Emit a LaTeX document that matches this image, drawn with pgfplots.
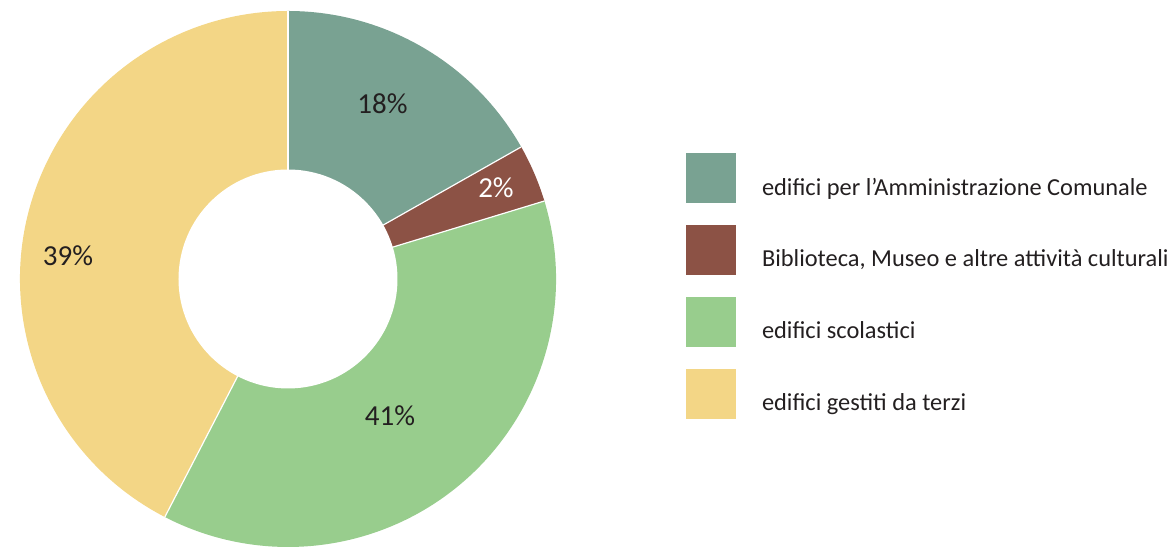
\documentclass[border=0pt]{standalone}
\usepackage{pgfplots}
\usepackage{pgfplotstable}
\pgfplotsset{compat=1.18}
\usepackage{fontspec}
\setmainfont{Carlito}
\definecolor{cA}{HTML}{79A292}
\definecolor{cB}{HTML}{8C5245}
\definecolor{cC}{HTML}{98CD8D}
\definecolor{cD}{HTML}{F3D686}
\definecolor{txt}{HTML}{231F20}

\pgfplotstableread{
share label
16.8 18
3.5 2
37.3 41
42.4 39
}\shares

\begin{document}
\begin{tikzpicture}
\pgfplotstablegetelem{0}{share}\of\shares \let\vA\pgfplotsretval
\pgfplotstablegetelem{1}{share}\of\shares \let\vB\pgfplotsretval
\pgfplotstablegetelem{2}{share}\of\shares \let\vC\pgfplotsretval
\pgfplotstablegetelem{3}{share}\of\shares \let\vD\pgfplotsretval
\pgfmathsetmacro\aA{90}
\pgfmathsetmacro\aB{\aA-3.6*\vA}
\pgfmathsetmacro\aC{\aB-3.6*\vB}
\pgfmathsetmacro\aD{\aC-3.6*\vC}
\pgfmathsetmacro\aE{\aD-3.6*\vD}
\begin{axis}[name=ax,
  width=587.5pt, height=274.5pt, scale only axis,
  xmin=0, xmax=1175, ymin=0, ymax=549,
  hide axis, clip=false,
  legend image code/.code={\fill[#1, draw=none] (0pt,-7.5pt) rectangle (25pt,17.5pt);},
  legend cell align=left,
  legend style={at={(0.58383,0.72131)}, anchor=north west, draw=none, fill=none,
    inner sep=0pt, outer sep=0pt, row sep=11pt,
    font=\fontsize{12.2}{14}\selectfont, text=txt,
    nodes={inner sep=0pt, outer sep=0pt},
    /tikz/every odd column/.append style={column sep=13pt}},
]
\addlegendimage{fill=cA, draw=none}\addlegendentry{edifici per l’Amministrazione Comunale}
\addlegendimage{fill=cB, draw=none}\addlegendentry{Biblioteca, Museo e altre attività culturali}
\addlegendimage{fill=cC, draw=none}\addlegendentry{edifici scolastici}
\addlegendimage{fill=cD, draw=none}\addlegendentry{edifici gestiti da terzi}
\fill[cA] (axis cs:288,270) -- ++(\aA:134pt) arc[start angle=\aA, end angle=\aB, radius=134pt] -- cycle;
\fill[cB] (axis cs:288,270) -- ++(\aB:134pt) arc[start angle=\aB, end angle=\aC, radius=134pt] -- cycle;
\fill[cC] (axis cs:288,270) -- ++(\aC:134pt) arc[start angle=\aC, end angle=\aD, radius=134pt] -- cycle;
\fill[cD] (axis cs:288,270) -- ++(\aD:134pt) arc[start angle=\aD, end angle=\aE, radius=134pt] -- cycle;
\draw[white, line width=0.6pt] (axis cs:288,270) -- ++(\aA:134pt);
\draw[white, line width=0.6pt] (axis cs:288,270) -- ++(\aB:134pt);
\draw[white, line width=0.6pt] (axis cs:288,270) -- ++(\aC:134pt);
\draw[white, line width=0.6pt] (axis cs:288,270) -- ++(\aD:134pt);
\fill[white] (axis cs:288,270) circle[radius=54.75pt];
\node[text=txt, font=\fontsize{14.5}{16}\selectfont, inner sep=0pt] at (axis cs:382.5,445) {18\%};
\node[text=white, font=\fontsize{14.5}{16}\selectfont, inner sep=0pt] at (axis cs:496,361) {2\%};
\node[text=txt, font=\fontsize{14.5}{16}\selectfont, inner sep=0pt] at (axis cs:390,133) {41\%};
\node[text=txt, font=\fontsize{14.5}{16}\selectfont, inner sep=0pt] at (axis cs:68,293) {39\%};
\end{axis}
\pgfresetboundingbox
\path[use as bounding box] (ax.south west) rectangle (ax.north east);
\end{tikzpicture}
\end{document}
